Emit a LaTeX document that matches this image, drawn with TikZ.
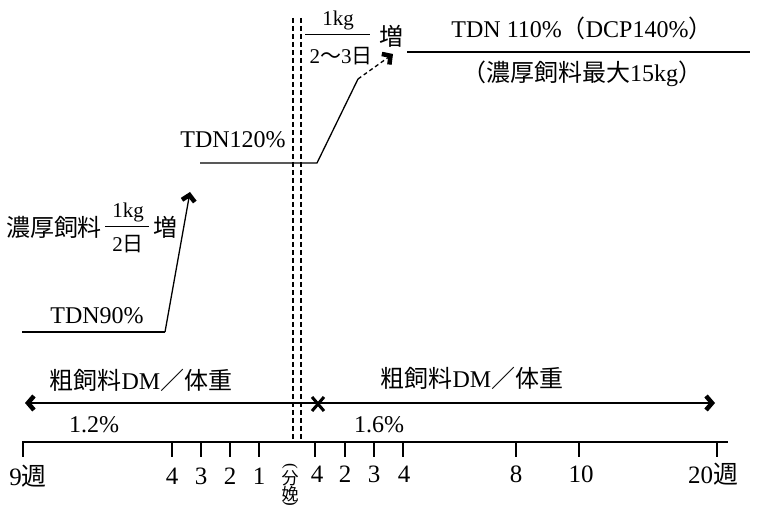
\documentclass[tikz,border=0pt]{standalone}
\usepackage{fontspec}
\setmainfont{Liberation Serif}
\newfontfamily\jpf{Noto Sans CJK JP}
\newcommand\J[1]{{\jpf #1}}
\usetikzlibrary{arrows.meta}
\tikzset{
  ln/.style={line width=1.3pt},
  dsh/.style={line width=1.1pt, dash pattern=on 5pt off 3pt},
  barbtip/.style={-{Straight Barb[length=6pt,width=13pt,line width=4.5pt]}},
  both/.style={{Straight Barb[length=6pt,width=14pt,line width=4.5pt]}-{Straight Barb[length=6pt,width=14pt,line width=4.5pt]}},
  txt/.style={inner sep=0pt, font=\fontsize{24}{26}\selectfont},
  tl/.style={inner sep=0pt, font=\fontsize{25}{27}\selectfont},
  fr/.style={inner sep=0pt, font=\fontsize{21}{23}\selectfont},
  sm/.style={inner sep=0pt, font=\fontsize{17}{17}\selectfont},
}
\begin{document}
\begin{tikzpicture}[x=1pt,y=-1pt]
\useasboundingbox (0,0) rectangle (764,510);
% time axis
\coordinate (axL) at (22,442);
\coordinate (axR) at (728,442);
\draw[ln] (axL) -- (axR);
\foreach \x in {23,172,201,230,259,315,345,374,403,516,579,717}
  \draw[ln] (\x,442) -- (\x,457);
\node[tl] (w9)  at (28,476) {9\J{週}};
\node[tl] (m4)  at (172,476) {4};
\node[tl] (m3)  at (201,476) {3};
\node[tl] (m2)  at (230,476) {2};
\node[tl] (m1)  at (259,476) {1};
\node[tl] (p4a) at (317,474) {4};
\node[tl] (p2)  at (345,474) {2};
\node[tl] (p3)  at (374,474) {3};
\node[tl] (p4b) at (404,474) {4};
\node[tl] (p8)  at (516,474) {8};
\node[tl] (p10) at (581,474) {10};
\node[tl] (w20) at (713,474) {20\J{週}};
% parturition label
\node[sm, rotate=-90] (pa) at (290,466) {(};
\node[sm] (fen) at (290,478) {\J{分}};
\node[sm] (mian) at (290,494) {\J{娩}};
\node[sm, rotate=-90] (pb) at (290,503) {)};
% dashed parturition lines
\coordinate (d1t) at (293,18); \coordinate (d1b) at (293,442);
\coordinate (d2t) at (301,18); \coordinate (d2b) at (301,442);
\draw[dsh] (d1t) -- (d1b);
\draw[dsh] (d2t) -- (d2b);
% roughage arrow
\coordinate (rL) at (25,403);
\coordinate (rR) at (715,403);
\draw[ln, both] (rL) -- (rR);
\coordinate (cx) at (318,404);
\draw[line width=3pt] ([shift={(-6,-7)}]cx) -- ([shift={(6,7)}]cx);
\draw[line width=3pt] ([shift={(-6,7)}]cx) -- ([shift={(6,-7)}]cx);
\node[txt] (rg1) at (141,380) {\J{粗飼料}DM\J{／体重}};
\node[txt] (rg2) at (472,378) {\J{粗飼料}DM\J{／体重}};
\node[txt] (r12) at (94,425) {1.2\%};
\node[txt] (r16) at (379,425) {1.6\%};
% TDN90 -> ramp
\node[txt] (t90) at (97,316) {TDN90\%};
\coordinate (a1) at (22,332);
\coordinate (a2) at (165,332);
\coordinate (a3) at (190,192);
\draw[ln] (a1) -- (a2);
\draw[ln, barbtip] (a2) -- (a3);
\node[txt] (c1) at (54,227) {\J{濃厚飼料}};
\node[fr] (c1n) at (128,212) {1kg};
\node[fr] (c1d) at (128,244) {2\J{日}};
\coordinate (b1l) at (105,227); \coordinate (b1r) at (149,227);
\draw[line width=1pt] (b1l) -- (b1r);
\node[txt] (c1z) at (165,227) {\J{増}};
% TDN120 -> ramp
\node[txt] (t120) at (233,140) {TDN120\%};
\coordinate (e1) at (200,163);
\coordinate (e2) at (317,163);
\coordinate (e3) at (358,79);
\coordinate (e4) at (393,54);
\draw[ln] (e1) -- (e2) -- (e3);
\draw[ln, dash pattern=on 4pt off 3pt, barbtip] (e3) -- (e4);
\node[fr] (c2n) at (338,20) {1kg};
\node[fr] (c2d) at (341,56) {2\J{〜}3\J{日}};
\coordinate (b2l) at (305,35); \coordinate (b2r) at (370,35);
\draw[line width=1pt] (b2l) -- (b2r);
\node[txt] (c2z) at (391,36) {\J{増}};
% TDN110
\node[txt] (t110) at (582,28) {TDN 110\%\J{（}DCP140\%\J{）}};
\coordinate (f1) at (407,52);
\coordinate (f2) at (750,52);
\draw[ln] (f1) -- (f2);
\node[txt] (cmax) at (582,74) {\J{（濃厚飼料最大}15kg\J{）}};
\end{tikzpicture}
\end{document}
